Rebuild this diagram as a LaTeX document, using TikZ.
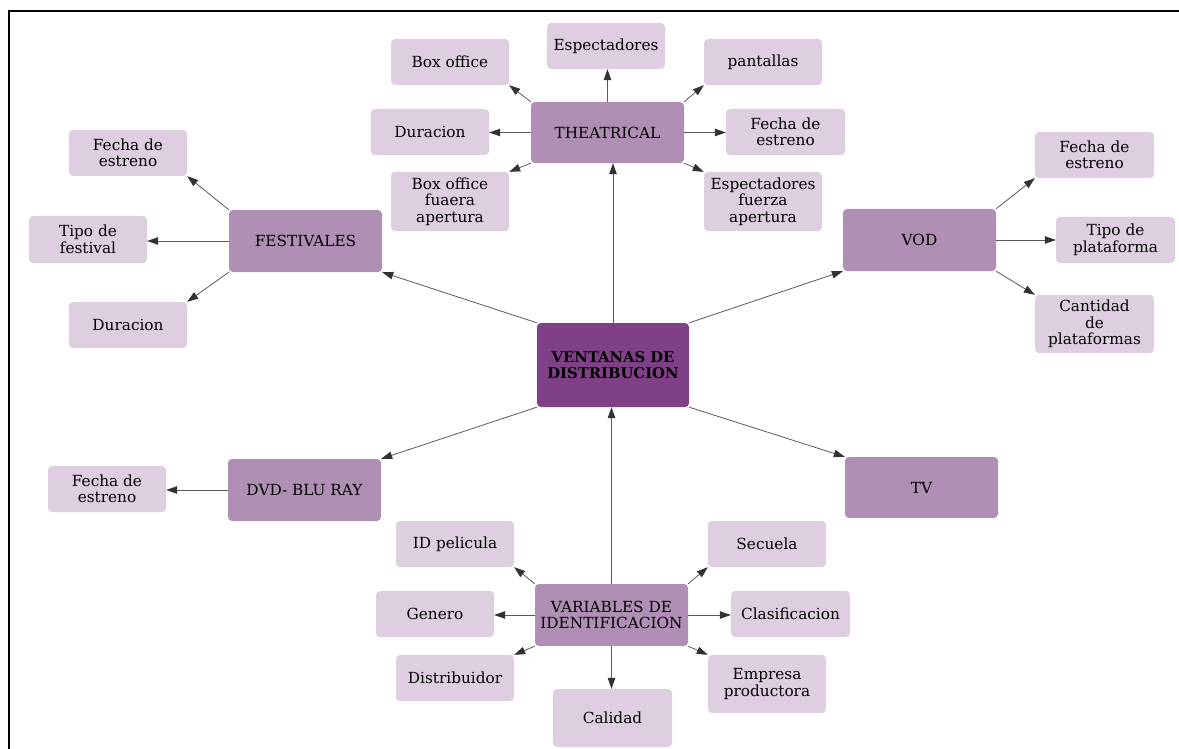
\documentclass[tikz,border=0pt]{standalone}
\usepackage{fontspec}
\setmainfont{DejaVu Serif}
\usetikzlibrary{arrows.meta}
\definecolor{dark}{RGB}{128,64,136}
\definecolor{mid}{RGB}{176,143,181}
\definecolor{light}{RGB}{221,207,224}
\definecolor{linegray}{RGB}{90,90,90}
\definecolor{tipgray}{RGB}{50,50,50}
\tikzset{
  box/.style={rounded corners=4pt, align=center, inner sep=0pt, text=black},
  leaf/.style={box, fill=light, minimum width=118pt, minimum height=46pt, font=\fontsize{15.3}{16.5}\selectfont},
  mainbox/.style={box, fill=mid, minimum width=153pt, minimum height=62pt, font=\fontsize{15.3}{16.5}\selectfont},
  centerbox/.style={box, fill=dark, minimum width=152pt, minimum height=84pt, font=\bfseries\fontsize{14.8}{16.5}\selectfont},
  conn/.style={draw=linegray, line width=0.8pt, -{Triangle[length=11pt,width=7.5pt,color=tipgray]}}
}
\begin{document}
\begin{tikzpicture}[x=1pt,y=-1pt]
\useasboundingbox (0,0) rectangle (1179,749);
\fill[white] (0,0) rectangle (1179,749);
\draw[line width=2pt, black] (9,749) -- (9,11) -- (1179,11);

% main nodes
\node[centerbox] (center) at (613,365) {VENTANAS DE\\DISTRIBUCION};
\node[mainbox, minimum height=61pt] (theatrical) at (607.5,132.5) {THEATRICAL};
\node[mainbox] (festivales) at (305.5,241) {FESTIVALES};
\node[mainbox] (vod) at (919.5,240) {VOD};
\node[mainbox] (dvd) at (304.5,490) {DVD- BLU RAY};
\node[mainbox, minimum height=61pt] (tv) at (921.5,487.5) {TV};
\node[mainbox] (variables) at (611.5,615) {VARIABLES DE\\IDENTIFICACION};

% theatrical leaves
\node[leaf] (boxoffice) at (450,62) {Box office};
\node[leaf] (espect) at (606,46) {Espectadores};
\node[leaf] (pantallas) at (763,62) {pantallas};
\node[leaf] (duracionT) at (430,132) {Duracion};
\node[leaf, minimum width=119pt] (fechaT) at (785.5,132) {Fecha de\\estreno};
\node[leaf, minimum height=59pt] (boxfa) at (450,201.5) {Box office\\fuaera\\apertura};
\node[leaf, minimum height=59pt] (espfa) at (763,201.5) {Espectadores\\fuerza\\apertura};

% festivales leaves
\node[leaf] (fechaF) at (128,153) {Fecha de\\estreno};
\node[leaf, minimum height=47pt] (tipoF) at (88,239.5) {Tipo de\\festival};
\node[leaf] (duracionF) at (128,325) {Duracion};

% vod leaves
\node[leaf, minimum width=119pt] (fechaV) at (1094.5,155) {Fecha de\\estreno};
\node[leaf, minimum width=119pt] (tipoV) at (1115.5,240) {Tipo de\\plataforma};
\node[leaf, minimum width=119pt, minimum height=58pt] (cantV) at (1094.5,324) {Cantidad\\de\\plataformas};

% dvd leaf
\node[leaf] (fechaD) at (107,489) {Fecha de\\estreno};

% variables leaves
\node[leaf] (idp) at (455,544) {ID pelicula};
\node[leaf] (secuela) at (767,544) {Secuela};
\node[leaf] (genero) at (435,614) {Genero};
\node[leaf, minimum width=119pt] (clasif) at (790.5,614) {Clasificacion};
\node[leaf] (distrib) at (455,678) {Distribuidor};
\node[leaf, minimum height=58pt] (empresa) at (767,684) {Empresa\\productora};
\node[leaf, minimum width=119pt, minimum height=58pt] (calidad) at (612.5,718) {Calidad};

% center connections
\draw[conn] (center.north west) -- (festivales.south east);
\draw[conn] (center.north) -- (center.north |- theatrical.south);
\draw[conn] (center.north east) -- (vod.south west);
\draw[conn] (center.south west) -- (dvd.north east);
\draw[conn] (center.south east) -- (tv.north west);
\draw[conn] (variables.north) -- (variables.north |- center.south);

% theatrical
\draw[conn] (theatrical.north west) -- (boxoffice.south east);
\draw[conn] (theatrical.north) -- (theatrical.north |- espect.south);
\draw[conn] (theatrical.north east) -- (pantallas.south west);
\draw[conn] (theatrical.west) -- (theatrical.west -| duracionT.east);
\draw[conn] (theatrical.east) -- (theatrical.east -| fechaT.west);
\draw[conn] (theatrical.south west) -- (boxfa.north east);
\draw[conn] (theatrical.south east) -- (espfa.north west);

% festivales
\draw[conn] (festivales.north west) -- (fechaF.south east);
\draw[conn] (festivales.west) -- (festivales.west -| tipoF.east);
\draw[conn] (festivales.south west) -- (duracionF.north east);

% vod
\draw[conn] (vod.north east) -- (fechaV.south west);
\draw[conn] (vod.east) -- (vod.east -| tipoV.west);
\draw[conn] (vod.south east) -- (cantV.north west);

% dvd
\draw[conn] (dvd.west) -- (dvd.west -| fechaD.east);

% variables
\draw[conn] (variables.north west) -- (idp.south east);
\draw[conn] (variables.north east) -- (secuela.south west);
\draw[conn] (variables.west) -- (variables.west -| genero.east);
\draw[conn] (variables.east) -- (variables.east -| clasif.west);
\draw[conn] (variables.south west) -- (distrib.north east);
\draw[conn] (variables.south east) -- (empresa.north west);
\draw[conn] (variables.south) -- (variables.south |- calidad.north);
\end{tikzpicture}
\end{document}
